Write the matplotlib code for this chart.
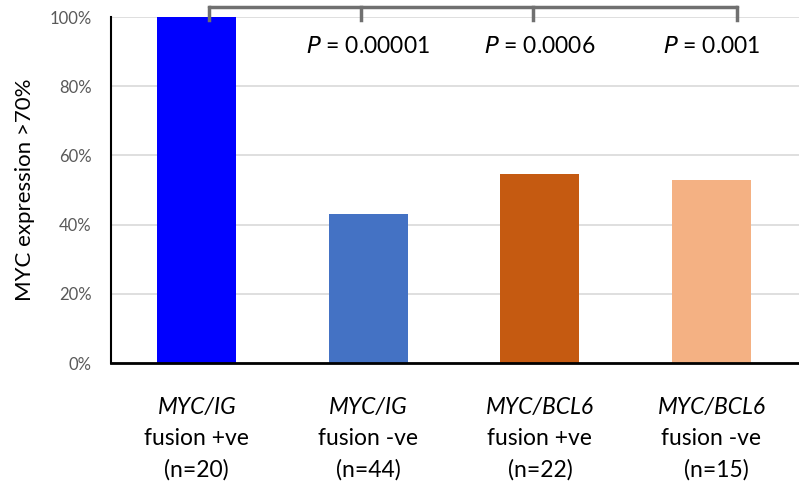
import numpy as np
import matplotlib.pyplot as plt
import matplotlib.transforms as mtransforms

plt.rcParams['font.family'] = ['Lato', 'DejaVu Sans']

genes = ["MYC/IG", "MYC/IG", "MYC/BCL6", "MYC/BCL6"]
status = ["fusion +ve", "fusion -ve", "fusion +ve", "fusion -ve"]
counts = ["(n=20)", "(n=44)", "(n=22)", "(n=15)"]
values = [100, 43, 54.5, 53]
colors = ["#0000ff", "#4472c4", "#c55a11", "#f4b183"]
pvals = ["0.00001", "0.0006", "0.001"]

fig = plt.figure(figsize=(7.99, 4.91), dpi=100)
ax = fig.add_axes([111/799, 1 - 363/491, 688/799, 346/491])

x = np.arange(len(values))
ax.bar(x, values, width=0.46, color=colors, zorder=2)
ax.set_xlim(-0.5, 3.51)
ax.set_ylim(0, 100)
ax.set_yticks(np.arange(0, 101, 20))
ax.set_yticklabels([f"{v}%" for v in range(0, 101, 20)], color="#595959", fontsize=12)
ax.yaxis.grid(True, color="#d9d9d9", linewidth=1.2, zorder=0)
ax.tick_params(axis="y", length=0, pad=14)
ax.tick_params(axis="x", length=0)
ax.set_xticks([])
for s in ["top", "right"]:
    ax.spines[s].set_visible(False)
ax.spines["left"].set_linewidth(1.5)
ax.spines["bottom"].set_linewidth(2)
ax.set_ylabel("MYC expression >70%", fontsize=16, labelpad=10)

# x labels
tr = mtransforms.blended_transform_factory(ax.transData, ax.transAxes)
for i in range(len(values)):
    ax.text(i, -0.13, genes[i], style="italic", fontsize=16.5, ha="center", va="center", transform=tr)
    ax.text(i, -0.218, status[i], fontsize=16.5, ha="center", va="center", transform=tr)
    ax.text(i + (0.03 if i == 3 else 0), -0.31, counts[i], fontsize=16.5, ha="center", va="center", transform=tr)

# significance bracket
br_y = 102.9
br_x = [0.07, 0.96, 1.96, 3.15]
ax.plot([br_x[0], br_x[-1]], [br_y, br_y], color="#707070", linewidth=2.5,
        clip_on=False, solid_capstyle="round", zorder=3)
for bx in br_x:
    ax.plot([bx, bx], [br_y, 99.2], color="#707070", linewidth=2.5, clip_on=False, zorder=3)

for i, p in enumerate(pvals):
    ax.text(i + 1, 91.5, r"$\it{P}$ = " + p, fontsize=16.5, ha="center", va="center")

fig.savefig("out.png", dpi=100)
